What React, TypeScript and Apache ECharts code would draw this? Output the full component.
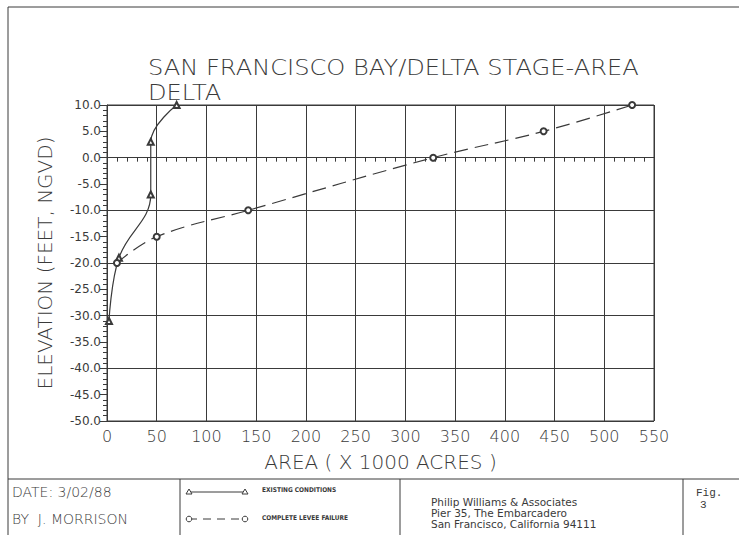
import React, { useEffect, useRef } from "react";
import * as echarts from "echarts";

const existingArea = [2, 12, 44, 44, 70];
const existingElev = [-31, -19, -7, 3, 10];
const leveeArea = [10, 50, 142, 328, 439, 528];
const leveeElev = [-20, -15, -10, 0, 5, 10];

const titleLines = ["SAN FRANCISCO BAY/DELTA STAGE-AREA", "DELTA"];
const xName = "AREA ( X 1000 ACRES )";
const yName = "ELEVATION (FEET, NGVD)";
const legendNames = ["EXISTING CONDITIONS", "COMPLETE LEVEE FAILURE"];
const companyLines = ["Philip Williams & Associates", "Pier 35, The Embarcadero", "San Francisco, California 94111"];

const INK = "#3a3a3a";
const F = "DejaVu Sans, sans-serif";

export default function App() {
  const ref = useRef<HTMLDivElement>(null);
  useEffect(() => {
    if (!ref.current) return;
    const chart = echarts.init(ref.current, undefined, { renderer: "svg" });
    const lineStyle = { stroke: INK, lineWidth: 1 };
    chart.setOption({
      animation: false,
      backgroundColor: "#ffffff",
      grid: { left: 107, top: 105, width: 547, height: 316, show: true, borderColor: INK, borderWidth: 1 },
      xAxis: {
        type: "value",
        min: 0,
        max: 550,
        interval: 50,
        name: xName,
        nameLocation: "middle",
        nameGap: 31,
        nameTextStyle: { fontFamily: F, fontSize: 20, fontWeight: 300, color: INK },
        axisLine: { show: true, lineStyle: { color: INK, width: 1 } },
        axisTick: { show: true, length: 6, lineStyle: { color: INK } },
        minorTick: { show: true, splitNumber: 5, length: 4, lineStyle: { color: INK } },
        axisLabel: { fontFamily: F, fontSize: 16, fontWeight: 300, color: INK, margin: 7 },
        splitLine: { show: true, lineStyle: { color: INK, width: 1 } },
      },
      yAxis: [
        {
          type: "value",
          min: -50,
          max: 10,
          interval: 10,
          axisLine: { show: false },
          axisTick: { show: false },
          axisLabel: { show: false },
          splitLine: { show: true, lineStyle: { color: INK, width: 1 } },
        },
        {
          type: "value",
          min: -50,
          max: 10,
          interval: 5,
          position: "left",
          name: yName,
          nameLocation: "middle",
          nameGap: 52,
          nameRotate: 90,
          nameTextStyle: { fontFamily: F, fontSize: 20, fontWeight: 300, color: INK },
          axisLine: { show: true, lineStyle: { color: INK, width: 1 } },
          axisTick: { show: true, length: 7, lineStyle: { color: INK } },
          minorTick: { show: true, splitNumber: 5, length: 4, lineStyle: { color: INK } },
          axisLabel: { fontFamily: F, fontSize: 12, color: INK, margin: 6, formatter: (v: number) => v.toFixed(1) },
          splitLine: { show: false },
        },
      ],
      series: [
        {
          type: "line",
          name: legendNames[0],
          yAxisIndex: 1,
          data: existingArea.map((a, i) => [a, existingElev[i]]),
          smooth: 0.4,
          symbol: "emptyTriangle",
          symbolSize: 6,
          itemStyle: { color: INK, borderColor: INK, borderWidth: 1 },
          lineStyle: { color: INK, width: 1.2 },
        },
        {
          type: "line",
          name: legendNames[1],
          yAxisIndex: 1,
          data: leveeArea.map((a, i) => [a, leveeElev[i]]),
          smooth: 0.4,
          symbol: "emptyCircle",
          symbolSize: 6,
          itemStyle: { color: INK, borderColor: INK, borderWidth: 1 },
          lineStyle: { color: INK, width: 1.2, type: [14, 7] },
        },
      ],
      graphic: [
        // frame
        { type: "line", shape: { x1: 8, y1: 7, x2: 739, y2: 7 }, style: lineStyle },
        { type: "line", shape: { x1: 8, y1: 7, x2: 8, y2: 535 }, style: lineStyle },
        { type: "line", shape: { x1: 8, y1: 479, x2: 739, y2: 479 }, style: lineStyle },
        { type: "line", shape: { x1: 180, y1: 479, x2: 180, y2: 535 }, style: lineStyle },
        { type: "line", shape: { x1: 400, y1: 479, x2: 400, y2: 535 }, style: lineStyle },
        { type: "line", shape: { x1: 683, y1: 479, x2: 683, y2: 535 }, style: lineStyle },
        // title
        { type: "text", x: 148, y: 57, scaleX: 1.15, style: { text: titleLines[0], font: `300 21px ${F}`, fill: INK } },
        { type: "text", x: 148, y: 82, scaleX: 1.15, style: { text: titleLines[1], font: `300 21px ${F}`, fill: INK } },
        // bottom texts
        { type: "text", x: 12, y: 485, style: { text: "DATE: 3/02/88", font: `300 14px ${F}`, fill: INK } },
        { type: "text", x: 12, y: 512, style: { text: "BY  J. MORRISON", font: `300 14px ${F}`, fill: INK } },
        // legend
        { type: "line", shape: { x1: 189, y1: 492, x2: 245, y2: 492 }, style: lineStyle },
        { type: "polygon", shape: { points: [[189, 489], [186, 494], [192, 494]] }, style: { fill: "#fff", stroke: INK, lineWidth: 1 } },
        { type: "polygon", shape: { points: [[245, 489], [242, 494], [248, 494]] }, style: { fill: "#fff", stroke: INK, lineWidth: 1 } },
        { type: "text", x: 262, y: 486, style: { text: legendNames[0], font: `bold 6.5px DejaVu Sans Condensed, ${F}`, fill: INK } },
        { type: "line", shape: { x1: 189, y1: 519, x2: 245, y2: 519 }, style: { stroke: INK, lineWidth: 1, lineDash: [8, 6] } },
        { type: "circle", shape: { cx: 189, cy: 519, r: 2.8 }, style: { fill: "#fff", stroke: INK, lineWidth: 1 } },
        { type: "circle", shape: { cx: 245, cy: 519, r: 2.8 }, style: { fill: "#fff", stroke: INK, lineWidth: 1 } },
        { type: "text", x: 262, y: 514, style: { text: legendNames[1], font: `bold 6.5px DejaVu Sans Condensed, ${F}`, fill: INK } },
        // company
        { type: "text", x: 431, y: 496, style: { text: companyLines[0], font: `10.5px ${F}`, fill: INK } },
        { type: "text", x: 431, y: 507, style: { text: companyLines[1], font: `10.5px ${F}`, fill: INK } },
        { type: "text", x: 431, y: 518, style: { text: companyLines[2], font: `10.5px ${F}`, fill: INK } },
        // fig
        { type: "text", x: 696, y: 487, style: { text: "Fig.", font: `11px Liberation Mono, monospace`, fill: INK } },
        { type: "text", x: 700, y: 499, style: { text: "3", font: `11px Liberation Mono, monospace`, fill: INK } },
      ],
    });
    return () => chart.dispose();
  }, []);
  return <div ref={ref} style={{ position: "fixed", left: 0, top: 0, width: 739, height: 535, background: "#fff" }} />;
}
